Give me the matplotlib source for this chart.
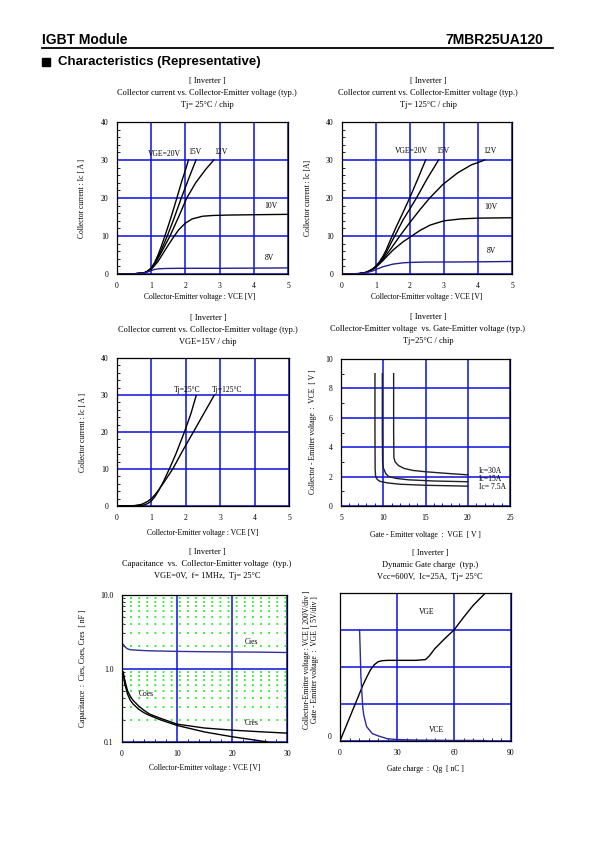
import matplotlib
matplotlib.use('Agg')
import matplotlib.pyplot as plt
from matplotlib.ticker import MultipleLocator, FixedLocator, NullFormatter

W, H = 595, 842
GRID = '#0a10e0'
SERIF = 'Liberation Serif'

# --- chart 1 : Ic vs VCE, Tj=25C ---
t25_vge20_x = [0, 0.5, 0.8, 0.9, 1.0, 1.1, 1.2, 1.3, 1.4, 1.5, 1.6, 1.75, 1.9, 2.0, 2.09]
t25_vge20_y = [0, 0.05, 0.35, 0.8, 1.6, 3.0, 5.0, 7.4, 10.0, 12.7, 15.5, 20.0, 24.6, 27.3, 30.0]
t25_vge15_x = [0, 0.5, 0.8, 0.9, 1.0, 1.1, 1.2, 1.3, 1.47, 1.65, 1.88, 2.05, 2.2, 2.31]
t25_vge15_y = [0, 0.05, 0.3, 0.75, 1.5, 2.8, 4.5, 6.4, 10.0, 14.2, 20.0, 24.0, 27.5, 30.0]
t25_vge12_x = [0, 0.5, 0.8, 0.9, 1.0, 1.1, 1.2, 1.35, 1.55, 1.8, 2.04, 2.3, 2.6, 2.83]
t25_vge12_y = [0, 0.05, 0.3, 0.7, 1.4, 2.6, 4.1, 6.6, 10.0, 15.0, 20.0, 24.0, 27.6, 30.0]
t25_vge10_x = [0, 0.5, 0.8, 1.0, 1.2, 1.4, 1.6, 1.8, 2.0, 2.2, 2.5, 2.8, 3.2, 4.0, 5.0]
t25_vge10_y = [0, 0.05, 0.3, 1.2, 3.3, 6.2, 9.0, 11.6, 13.4, 14.5, 15.2, 15.4, 15.5, 15.6, 15.7]
t25_vge8_x = [0, 0.5, 0.8, 0.9, 1.0, 1.1, 1.2, 1.4, 1.8, 3.0, 5.0]
t25_vge8_y = [0, 0.03, 0.25, 0.55, 0.9, 1.2, 1.35, 1.45, 1.5, 1.5, 1.6]

# --- chart 2 : Ic vs VCE, Tj=125C ---
t125_vge20_x = [0, 0.5, 0.7, 0.8, 0.9, 1.0, 1.1, 1.2, 1.3, 1.45, 1.6, 1.8, 1.99, 2.2, 2.46]
t125_vge20_y = [0, 0.1, 0.4, 0.8, 1.3, 2.1, 3.2, 4.6, 6.3, 9.5, 12.5, 16.3, 20.0, 24.4, 30.0]
t125_vge15_x = [0, 0.5, 0.7, 0.8, 0.9, 1.0, 1.1, 1.2, 1.3, 1.55, 1.8, 2.0, 2.19, 2.5, 2.84]
t125_vge15_y = [0, 0.1, 0.4, 0.8, 1.3, 2.0, 3.0, 4.2, 5.7, 10.0, 14.3, 17.2, 20.0, 25.0, 30.0]
t125_vge12_x = [0, 0.5, 0.7, 0.8, 0.9, 1.0, 1.2, 1.45, 1.7, 2.0, 2.3, 2.58, 2.97, 3.4, 3.8, 4.2]
t125_vge12_y = [0, 0.1, 0.4, 0.8, 1.3, 1.9, 3.8, 6.8, 10.0, 13.6, 17.0, 20.0, 23.6, 26.6, 28.7, 30.0]
t125_vge10_x = [0, 0.5, 0.7, 0.9, 1.0, 1.2, 1.5, 1.8, 2.0, 2.3, 2.6, 3.0, 3.5, 4.0, 5.0]
t125_vge10_y = [0, 0.1, 0.4, 1.2, 1.8, 3.5, 6.3, 8.5, 9.7, 11.5, 12.9, 14.0, 14.5, 14.7, 14.8]
t125_vge8_x = [0, 0.5, 0.7, 0.9, 1.0, 1.2, 1.5, 1.8, 2.0, 2.5, 3.0, 4.0, 5.0]
t125_vge8_y = [0, 0.08, 0.3, 0.8, 1.2, 1.9, 2.6, 2.95, 3.05, 3.15, 3.15, 3.2, 3.3]

# --- chart 3 : Ic vs VCE, VGE=15V ---
v15_tj25_x = [0, 0.5, 0.8, 0.9, 1.0, 1.1, 1.2, 1.35, 1.52, 1.7, 1.96, 2.15, 2.3]
v15_tj25_y = [0, 0.05, 0.3, 0.7, 1.4, 2.5, 4.0, 6.6, 10.0, 13.8, 20.0, 25.0, 29.8]
v15_tj125_x = [0, 0.5, 0.7, 0.8, 0.9, 1.0, 1.1, 1.2, 1.35, 1.62, 1.9, 2.22, 2.5, 2.83]
v15_tj125_y = [0, 0.1, 0.4, 0.8, 1.3, 2.0, 3.0, 4.2, 6.2, 10.0, 14.8, 20.0, 24.6, 30.0]

# --- chart 4 : VCE vs VGE ---
ic30_vge = [11.23, 11.23, 11.26, 11.4, 11.8, 12.5, 13.5, 15.0, 17.5, 20.0]
ic30_vce = [9.0, 5.0, 3.3, 3.0, 2.75, 2.55, 2.42, 2.33, 2.22, 2.12]
ic15_vge = [9.89, 9.89, 9.92, 10.0, 10.3, 10.6, 11.5, 13.0, 16.0, 20.0]
ic15_vce = [9.0, 5.0, 3.0, 2.6, 2.2, 2.02, 1.88, 1.78, 1.7, 1.65]
ic75_vge = [9.02, 9.02, 9.04, 9.1, 9.3, 9.6, 10.5, 12.0, 15.0, 20.0]
ic75_vce = [9.0, 5.0, 2.5, 2.0, 1.8, 1.68, 1.57, 1.48, 1.41, 1.35]

# --- chart 5 : capacitance ---
cies_x = [0, 0.3, 0.6, 1.0, 1.5, 3, 5, 10, 15, 20, 25, 30]
cies_y = [2.2, 2.1, 1.95, 1.85, 1.8, 1.77, 1.74, 1.71, 1.69, 1.68, 1.67, 1.65]
coes_x = [0.2, 0.5, 1, 1.5, 2, 3, 4, 5, 7, 10, 15, 20, 25, 30]
coes_y = [0.9, 0.7, 0.5, 0.42, 0.37, 0.31, 0.27, 0.24, 0.21, 0.175, 0.155, 0.145, 0.138, 0.132]
cres_x = [0.2, 0.5, 1, 1.5, 2, 3, 4, 5, 7, 10, 15, 20, 25, 26.5]
cres_y = [0.85, 0.62, 0.45, 0.37, 0.33, 0.28, 0.25, 0.23, 0.2, 0.168, 0.137, 0.118, 0.104, 0.1]

# --- chart 6 : gate charge ---
qg_vge = [0, 4, 8, 12, 14, 16, 18, 20, 22, 25, 30, 40, 45, 47, 50, 55, 60, 65, 70, 76.5]
vge_v = [0, 2.5, 5.0, 7.5, 8.6, 9.6, 10.3, 10.7, 10.85, 10.9, 10.9, 10.9, 11.0, 11.5, 12.5, 13.8, 15.0, 16.7, 18.3, 20.0]
qg_vce = [10.3, 10.6, 11.0, 11.3, 12.0, 12.5, 14, 17, 20, 25, 30, 40, 50, 60, 70, 77]
vce_v = [600, 500, 350, 294, 180, 140, 78, 40, 28, 12, 8, 5, 4, 3, 3, 2]


def px(x, y):
    return x / W, 1 - y / H


def add_ax(x0, y0, x1, y1):
    return fig.add_axes([x0 / W, 1 - y1 / H, (x1 - x0) / W, (y1 - y0) / H])


def style(ax):
    for s in ax.spines.values():
        s.set_linewidth(0.9)
    ax.tick_params(which='both', direction='in', labelsize=5.5, pad=6)
    ax.tick_params(which='major', length=0)
    ax.tick_params(which='minor', length=2.5, width=0.6)
    for lab in ax.get_xticklabels() + ax.get_yticklabels():
        lab.set_family(SERIF)
    ax.grid(True, which='major', color=GRID, lw=1.1)
    ax.set_axisbelow(True)


def titles(cx, y0, lines):
    for i, t in enumerate(lines):
        fig.text(*px(cx, y0 + i * 12), t, ha='center', va='center',
                 fontsize=6, family=SERIF)


def lbl(ax, text, **kw):
    ax.text(*text, fontsize=5.5, family=SERIF, ha='center', va='center', **kw)


fig = plt.figure(figsize=(W / 100, H / 100), dpi=100)

# header
fig.text(*px(42, 40), 'IGBT Module', fontsize=10, weight='bold',
         family='Liberation Sans', va='center')
fig.text(*px(543, 40), '7MBR25UA120', fontsize=10, weight='bold',
         family='Liberation Sans', va='center', ha='right')
fig.add_artist(plt.Line2D([42 / W, 553 / W], [1 - 48 / H, 1 - 48 / H],
                          color='black', lw=1.3))
fig.add_artist(plt.Rectangle(px(42, 66), 8 / W, 8 / H, color='black'))
fig.text(*px(58, 62), 'Characteristics (Representative)', fontsize=9.5,
         weight='bold', family='Liberation Sans', va='center')


def ic_axes(ax):
    ax.set_xlim(0, 5)
    ax.set_ylim(0, 40)
    ax.xaxis.set_major_locator(MultipleLocator(1))
    ax.yaxis.set_major_locator(MultipleLocator(10))
    ax.yaxis.set_minor_locator(MultipleLocator(2))
    style(ax)


# chart 1
ax1 = add_ax(117, 122, 288, 274)
ic_axes(ax1)
titles(207, 81, ['[ Inverter ]', 'Collector current vs. Collector-Emitter voltage (typ.)',
                 'Tj= 25°C / chip'])
for xs, ys in [(t25_vge20_x, t25_vge20_y), (t25_vge15_x, t25_vge15_y),
               (t25_vge12_x, t25_vge12_y), (t25_vge10_x, t25_vge10_y)]:
    ax1.plot(xs, ys, color='black', lw=1.0)
ax1.plot(t25_vge8_x, t25_vge8_y, color='#202090', lw=1.0)
lbl(ax1, (1.38, 31.7, 'VGE=20V'))
lbl(ax1, (2.28, 32, '15V'))
lbl(ax1, (3.03, 32, '12V'))
lbl(ax1, (4.5, 18, '10V'))
lbl(ax1, (4.45, 4.1, '8V'))
fig.text(*px(200, 297), 'Collector-Emitter voltage : VCE [V]', fontsize=5.5,
         family=SERIF, ha='center', va='center')
fig.text(*px(82, 198), 'Collector current : Ic [ A ]', fontsize=5.5,
         family=SERIF, ha='center', va='center', rotation=90)

# chart 2
ax2 = add_ax(342, 122, 512, 274)
ic_axes(ax2)
titles(428, 81, ['[ Inverter ]', 'Collector current vs. Collector-Emitter voltage (typ.)',
                 'Tj= 125°C / chip'])
for xs, ys in [(t125_vge20_x, t125_vge20_y), (t125_vge15_x, t125_vge15_y),
               (t125_vge12_x, t125_vge12_y), (t125_vge10_x, t125_vge10_y)]:
    ax2.plot(xs, ys, color='black', lw=1.0)
ax2.plot(t125_vge8_x, t125_vge8_y, color='#202090', lw=1.0)
lbl(ax2, (2.04, 32.4, 'VGE=20V'))
lbl(ax2, (2.97, 32.4, '15V'))
lbl(ax2, (4.34, 32.4, '12V'))
lbl(ax2, (4.39, 17.6, '10V'))
lbl(ax2, (4.39, 6, '8V'))
fig.text(*px(427, 297), 'Collector-Emitter voltage : VCE [V]', fontsize=5.5,
         family=SERIF, ha='center', va='center')
fig.text(*px(308, 198), 'Collector current : Ic [A]', fontsize=5.5,
         family=SERIF, ha='center', va='center', rotation=90)

# chart 3
ax3 = add_ax(117, 358, 289, 506)
ic_axes(ax3)
titles(208, 318, ['[ Inverter ]', 'Collector current vs. Collector-Emitter voltage (typ.)',
                  'VGE=15V / chip'])
ax3.plot(v15_tj25_x, v15_tj25_y, color='black', lw=1.0)
ax3.plot(v15_tj125_x, v15_tj125_y, color='black', lw=1.0)
lbl(ax3, (2.03, 31.4, 'Tj=25°C'))
lbl(ax3, (3.19, 31.4, 'Tj=125°C'))
fig.text(*px(203, 533), 'Collector-Emitter voltage : VCE [V]', fontsize=5.5,
         family=SERIF, ha='center', va='center')
fig.text(*px(83, 432), 'Collector current : Ic [ A ]', fontsize=5.5,
         family=SERIF, ha='center', va='center', rotation=90)

# chart 4
ax4 = add_ax(341, 359, 510, 506)
ax4.set_xlim(5, 25)
ax4.set_ylim(0, 10)
ax4.xaxis.set_major_locator(MultipleLocator(5))
ax4.xaxis.set_minor_locator(MultipleLocator(1))
ax4.yaxis.set_major_locator(MultipleLocator(2))
ax4.yaxis.set_minor_locator(MultipleLocator(1))
style(ax4)
titles(428, 317, ['[ Inverter ]', 'Collector-Emitter voltage  vs. Gate-Emitter voltage (typ.)',
                  'Tj=25°C / chip'])
for xs, ys in [(ic30_vge, ic30_vce), (ic15_vge, ic15_vce), (ic75_vge, ic75_vce)]:
    ax4.plot(xs, ys, color='#202020', lw=1.0)
ax4.text(21.3, 2.4, 'Ic=30A', fontsize=5.5, family=SERIF, va='center')
ax4.text(21.3, 1.86, 'Ic=15A', fontsize=5.5, family=SERIF, va='center')
ax4.text(21.3, 1.3, 'Ic= 7.5A', fontsize=5.5, family=SERIF, va='center')
fig.text(*px(425, 535), 'Gate - Emitter voltage  :  VGE  [ V ]', fontsize=5.5,
         family=SERIF, ha='center', va='center')
fig.text(*px(313, 432), 'Collector - Emitter voltage  :  VCE  [ V ]', fontsize=5.5,
         family=SERIF, ha='center', va='center', rotation=90)

# chart 5
ax5 = add_ax(122, 595, 287, 742)
ax5.set_yscale('log')
ax5.set_xlim(0, 30)
ax5.set_ylim(0.1, 10)
ax5.xaxis.set_major_locator(MultipleLocator(10))
ax5.xaxis.set_minor_locator(MultipleLocator(2))
ax5.yaxis.set_major_locator(FixedLocator([0.1, 1.0, 10.0]))
ax5.set_yticklabels(['0.1', '1.0', '10.0'])
minors = [m * d for d in (0.1, 1.0) for m in range(2, 10)]
ax5.yaxis.set_minor_locator(FixedLocator(minors))
ax5.yaxis.set_minor_formatter(NullFormatter())
style(ax5)
for m in minors:
    ax5.axhline(m, color='#22ee22', lw=1.3, ls=(0, (1, 3.5)), zorder=1)
ax5.plot(cies_x, cies_y, color='#3030a0', lw=1.0)
ax5.plot(coes_x, coes_y, color='black', lw=1.0)
ax5.plot(cres_x, cres_y, color='black', lw=1.0)
lbl(ax5, (23.5, 2.29, 'Cies'))
lbl(ax5, (4.4, 0.45, 'Coes'))
lbl(ax5, (23.5, 0.18, 'Cres'))
titles(207, 552, ['[ Inverter ]', 'Capacitance  vs.  Collector-Emitter voltage  (typ.)',
                  'VGE=0V,  f= 1MHz,  Tj= 25°C'])
fig.text(*px(205, 768), 'Collector-Emitter voltage : VCE [V]', fontsize=5.5,
         family=SERIF, ha='center', va='center')
fig.text(*px(83, 668), 'Capacitance  :  Cies, Coes, Cres  [ nF ]', fontsize=5.5,
         family=SERIF, ha='center', va='center', rotation=90)

# chart 6
ax6 = add_ax(340, 593, 511, 741)
ax6.set_xlim(0, 90)
ax6.set_ylim(0, 4)
ax6.xaxis.set_major_locator(MultipleLocator(30))
ax6.xaxis.set_minor_locator(MultipleLocator(5))
ax6.yaxis.set_major_locator(MultipleLocator(1))
style(ax6)
ax6.set_yticklabels([])
ax6.text(-4.5, 0.1, '0', fontsize=5.5, family=SERIF, ha='right', va='center')
ax6.plot(qg_vge, [v / 5 for v in vge_v], color='black', lw=1.0)
ax6.plot(qg_vce, [v / 200 for v in vce_v], color='#2a2aa0', lw=1.0)
lbl(ax6, (45.6, 3.5, 'VGE'))
lbl(ax6, (51, 0.3, 'VCE'))
titles(430, 553, ['[ Inverter ]', 'Dynamic Gate charge  (typ.)',
                  'Vcc=600V,  Ic=25A,  Tj= 25°C'])
fig.text(*px(425, 769), 'Gate charge  :  Qg  [ nC ]', fontsize=5.5,
         family=SERIF, ha='center', va='center')
fig.text(*px(307, 660), 'Collector-Emitter voltage : VCE [ 200V/div ]',
         fontsize=5.5, family=SERIF, ha='center', va='center', rotation=90)
fig.text(*px(315, 660), 'Gate - Emitter voltage  :  VGE  [ 5V/div ]',
         fontsize=5.5, family=SERIF, ha='center', va='center', rotation=90)

fig.savefig('out.png', dpi=100)
